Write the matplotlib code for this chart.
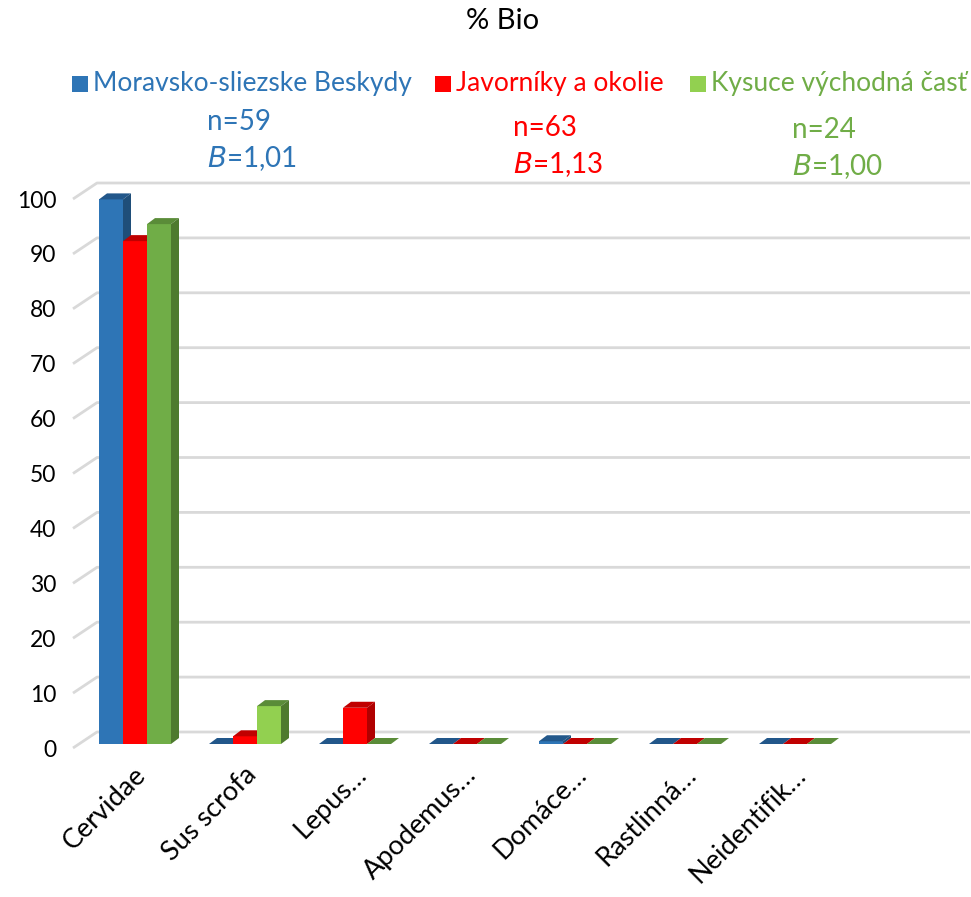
import matplotlib
matplotlib.use("Agg")
import matplotlib.pyplot as plt
from matplotlib.patches import Polygon, Rectangle
import numpy as np

plt.rcParams['font.family'] = ['Lato', 'DejaVu Sans']

categories = ["Cervidae", "Sus scrofa", "Lepus…", "Apodemus…", "Domáce…", "Rastlinná…", "Neidentifik…"]
series_names = ["Moravsko-sliezske Beskydy", "Javorníky a okolie", "Kysuce východná časť"]
moravsko = [99.2, 0.0, 0.0, 0.0, 0.5, 0.0, 0.0]
javorniky = [91.6, 1.4, 6.6, 0.0, 0.0, 0.0, 0.0]
kysuce = [94.7, 6.9, 0.0, 0.0, 0.0, 0.0, 0.0]
n_labels = ["n=59", "n=63", "n=24"]
b_values = ["1,01", "1,13", "1,00"]
yticks = list(range(0, 101, 10))
title = "% Bio"

W, H = 971, 897
fig = plt.figure(figsize=(W / 100, H / 100), dpi=100)

# front plane geometry (pixels)
px_left, px_right = 73, 946
py0, py100 = 748, 199
pxu = 110.0                       # px per category
pyu = (py0 - py100) / 100.0       # px per value unit
grp_center0 = 129                 # px of first group center on front plane
x_lo = (px_left - grp_center0) / pxu
x_hi = (px_right - grp_center0) / pxu

ax = fig.add_axes([px_left / W, (H - py0) / H, (px_right - px_left) / W, (py0 - py100) / H])
ax.set_xlim(x_lo, x_hi)
ax.set_ylim(0, 100)
for s in ax.spines.values():
    s.set_visible(False)

# back wall gridlines with perspective offset
wdx, wdy = 24 / pxu, 16 / pyu
for v in yticks:
    ax.plot([x_lo, x_lo + wdx, x_hi + wdx], [v, v + wdy, v + wdy],
            color="#d9d9d9", lw=2.0, clip_on=False, zorder=1, solid_capstyle="butt")

# bars
bw = 24 / pxu
off_x, off_y = 6 / pxu, 4 / pyu      # bar plane offset from front
ddx, ddy = 8 / pxu, 6 / pyu          # bar depth
data = [moravsko, javorniky, kysuce]
front_cols = [["#2E75B6"] * 7, ["#FF0000"] * 7, ["#70AD47", "#92D050"] + ["#70AD47"] * 5]
top_cols = ["#22578a", "#c00000", "#5a8c38"]
side_cols = ["#1f4e79", "#b00000", "#4e7a2e"]

x = np.arange(len(categories))
for k, vals in enumerate(data):
    xs = x + off_x + (k - 1) * bw
    ax.bar(xs, vals, width=bw, bottom=off_y, color=front_cols[k], zorder=3 + k, linewidth=0,
           clip_on=False)
    for xi, v in zip(xs, vals):
        x0, x1 = xi - bw / 2, xi + bw / 2
        b, t = off_y, off_y + v
        ax.add_patch(Polygon([[x0, t], [x1, t], [x1 + ddx, t + ddy], [x0 + ddx, t + ddy]],
                             closed=True, facecolor=top_cols[k], edgecolor="none", zorder=3 + k,
                             clip_on=False))
        ax.add_patch(Polygon([[x1, b], [x1, t], [x1 + ddx, t + ddy], [x1 + ddx, b + ddy]],
                             closed=True, facecolor=side_cols[k], edgecolor="none", zorder=3 + k,
                             clip_on=False))

ax.set_yticks(yticks)
ax.set_yticklabels([str(v) for v in yticks], fontsize=16.5)
ax.tick_params(axis="y", length=0, pad=12)
ax.set_xticks(x + 0.04)
ax.set_xticklabels(categories, rotation=45, ha="right", va="top", rotation_mode="anchor", fontsize=19.5)
ax.tick_params(axis="x", length=0, pad=10)

# title
fig.text(503 / W, 1 - 21 / H, title, ha="center", va="center", fontsize=21)

# legend
leg_cols = ["#2E75B6", "#FF0000", "#92D050"]
txt_cols = ["#2E75B6", "#FF0000", "#70AD47"]
leg_x = [72, 435, 690]
for k in range(3):
    fig.add_artist(Rectangle((leg_x[k] / W, 1 - 92 / H), 16 / W, 16 / H,
                             transform=fig.transFigure, facecolor=leg_cols[k], edgecolor="none"))
    fig.text((leg_x[k] + 21) / W, 1 - 83 / H, series_names[k], ha="left", va="center",
             fontsize=19, color=txt_cols[k])

# n / B annotations
ann_x = [207, 513, 792]
ann_y = [122, 128, 130]
for k in range(3):
    fig.text(ann_x[k] / W, 1 - ann_y[k] / H, n_labels[k], ha="left", va="center",
             fontsize=20, color=txt_cols[k])
    fig.text(ann_x[k] / W, 1 - (ann_y[k] + 37) / H, r"$\it{B}$" + "=" + b_values[k],
             ha="left", va="center", fontsize=20, color=txt_cols[k])

fig.savefig("out.png", dpi=100)
